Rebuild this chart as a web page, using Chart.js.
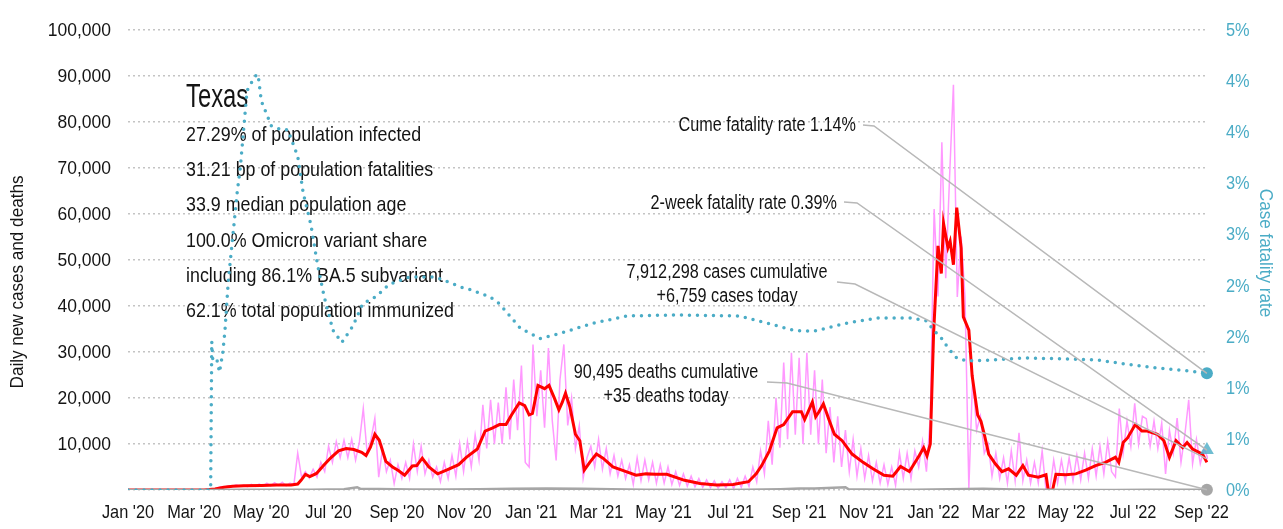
<!DOCTYPE html>
<html>
<head>
<meta charset="utf-8">
<script src="https://cdn.jsdelivr.net/npm/chart.js@4.4.1/dist/chart.umd.min.js"></script>
<style>
  html, body { margin: 0; padding: 0; background: #fff; }
</style>
</head>
<body>
<canvas id="texasChart" width="1283" height="529"></canvas>
<script>
const FONT = "'Liberation Sans', Arial, sans-serif";

// x axis ticks (every other month)
const tickDates = ['2020-01-01', '2020-03-01', '2020-05-01', '2020-07-01', '2020-09-01', '2020-11-01',
  '2021-01-01', '2021-03-01', '2021-05-01', '2021-07-01', '2021-09-01', '2021-11-01',
  '2022-01-01', '2022-03-01', '2022-05-01', '2022-07-01', '2022-09-01'];
const tickLabels = ["Jan '20", "Mar '20", "May '20", "Jul '20", "Sep '20", "Nov '20",
  "Jan '21", "Mar '21", "May '21", "Jul '21", "Sep '21", "Nov '21",
  "Jan '22", "Mar '22", "May '22", "Jul '22", "Sep '22"];

// daily new cases, one reading every 3.5 days from dailyStart (rows = 4 weeks)
const dailyStart = '2020-01-01';
const dailyStepDays = 3.5;
const dailyCases = [
  0, 0, 0, 0, 0, 0, 0, 0,
  0, 0, 0, 0, 0, 0, 0, 0,
  0, 0, 0, 0, 10, 40, 150, 400,
  700, 600, 900, 700, 1100, 800, 1000, 700,
  1200, 800, 1300, 900, 1500, 900, 1600, 1000,
  1700, 900, 1500, 1100, 8000, 2800, 4000, 2600,
  4500, 2800, 6000, 4000, 9500, 6000, 10500, 7000,
  10800, 7000, 11000, 6500, 10500, 17700, 8000, 11000,
  15600, 2800, 9000, 4000, 6500, 1400, 5500, 2500,
  6000, 2500, 10000, 4000, 9500, 3500, 6500, 2800,
  5000, 1800, 6000, 2500, 7500, 3000, 10000, 4000,
  10500, 5000, 12000, 6500, 18500, 9000, 19600, 10000,
  19000, 10000, 22300, 11000, 24000, 13000, 27000, 6000,
  5000, 31600, 16000, 26000, 13500, 30800, 15000, 6400,
  24000, 31600, 14000, 20000, 9000, 14000, 2500, 7000,
  9500, 5000, 11000, 4500, 9000, 3500, 7500, 3000,
  6500, 2500, 5500, 1200, 7000, 2000, 6500, 2200,
  6000, 1500, 5500, 1500, 5000, 1200, 4000, 1000,
  3500, 800, 3000, 700, 2500, 600, 2200, 500,
  2000, 400, 1800, 500, 2200, 300, 2500, 600,
  3000, 800, 5000, 1800, 8500, 3500, 15000, 5500,
  20000, 9200, 27700, 11000, 29800, 12000, 28700, 10000,
  29800, 12000, 26000, 10000, 24000, 8000, 18000, 6000,
  16000, 5000, 13000, 4000, 11000, 3000, 9000, 2500,
  7500, 2000, 6000, 1500, 5500, 1200, 5000, 1000,
  8100, 2500, 8000, 2500, 8500, 5000, 10600, 4000,
  15600, 61000, 42000, 75500, 46000, 68000, 88000, 41900,
  55000, 41900, 400, 25000, 13000, 16000, 8000, 10000,
  3000, 8000, 2500, 7000, 1500, 8500, 2000, 12400,
  2000, 6500, 1500, 6000, 1500, 8500, 0, 0,
  6500, 1500, 6500, 1800, 7000, 2000, 7500, 2200,
  8000, 2500, 9000, 3000, 9500, 3500, 10500, 4000,
  2800, 17700, 8000, 15000, 9500, 18800, 10000, 16000,
  15500, 9500, 15000, 9000, 14500, 3500, 13000, 8000,
  15600, 6000, 12000, 19600, 5700, 11000, 5700, 9000,
  6759
];

// 7-day average of new cases
const avgDates = [
  '2020-01-01', '2020-03-10', '2020-03-20', '2020-03-28', '2020-04-05', '2020-04-15', '2020-05-01', '2020-05-15',
  '2020-05-28', '2020-06-03', '2020-06-06', '2020-06-10', '2020-06-14', '2020-06-20', '2020-06-27', '2020-07-03',
  '2020-07-10', '2020-07-17', '2020-07-24', '2020-07-31', '2020-08-04', '2020-08-08', '2020-08-12', '2020-08-16',
  '2020-08-22', '2020-08-28', '2020-09-02', '2020-09-08', '2020-09-15', '2020-09-19', '2020-09-24', '2020-09-30',
  '2020-10-08', '2020-10-17', '2020-10-27', '2020-11-03', '2020-11-13', '2020-11-20', '2020-11-27', '2020-12-03',
  '2020-12-09', '2020-12-14', '2020-12-21', '2020-12-26', '2020-12-30', '2021-01-02', '2021-01-07', '2021-01-13',
  '2021-01-17', '2021-01-22', '2021-01-26', '2021-01-29', '2021-02-01', '2021-02-05', '2021-02-10', '2021-02-14',
  '2021-02-18', '2021-02-23', '2021-03-01', '2021-03-07', '2021-03-16', '2021-03-28', '2021-04-06', '2021-04-15',
  '2021-04-24', '2021-05-04', '2021-05-20', '2021-06-03', '2021-06-18', '2021-07-03', '2021-07-17', '2021-07-24',
  '2021-07-29', '2021-08-05', '2021-08-12', '2021-08-18', '2021-08-26', '2021-09-03', '2021-09-06', '2021-09-13',
  '2021-09-16', '2021-09-19', '2021-09-23', '2021-09-28', '2021-10-03', '2021-10-10', '2021-10-19', '2021-10-29',
  '2021-11-07', '2021-11-17', '2021-11-25', '2021-12-02', '2021-12-10', '2021-12-19', '2021-12-23', '2021-12-26',
  '2021-12-29', '2022-01-01', '2022-01-05', '2022-01-08', '2022-01-10', '2022-01-14', '2022-01-16', '2022-01-19',
  '2022-01-22', '2022-01-26', '2022-01-28', '2022-02-02', '2022-02-05', '2022-02-10', '2022-02-13', '2022-02-16',
  '2022-02-20', '2022-02-26', '2022-03-04', '2022-03-10', '2022-03-17', '2022-03-23', '2022-03-28', '2022-04-06',
  '2022-04-13', '2022-04-15', '2022-04-19', '2022-04-22', '2022-05-01', '2022-05-10', '2022-05-19', '2022-05-28',
  '2022-06-06', '2022-06-15', '2022-06-18', '2022-06-22', '2022-06-26', '2022-07-03', '2022-07-09', '2022-07-14',
  '2022-07-23', '2022-07-29', '2022-08-03', '2022-08-09', '2022-08-15', '2022-08-19', '2022-08-24', '2022-09-02',
  '2022-09-06'
];
const avgCases = [
  0, 0, 200, 600, 800, 900, 1000, 1100,
  1100, 1300, 2100, 3400, 2900, 3600, 5500, 7000,
  8500, 9000, 8800, 8200, 7500, 9300, 12100, 10800,
  6200, 5000, 4300, 3200, 5200, 5300, 6900, 5000,
  3500, 4400, 5500, 7100, 8900, 12800, 13500, 14200,
  14200, 16300, 18900, 18300, 16300, 16600, 22700, 22000,
  22700, 19900, 17400, 19000, 21000, 18000, 12100, 10700,
  4300, 6000, 7800, 6900, 5000, 4000, 3200, 3500,
  3400, 3400, 2100, 1400, 1100, 1200, 1800, 3500,
  5300, 8500, 13500, 14200, 17000, 17000, 15300, 19100,
  15900, 17000, 18700, 15300, 12100, 10700, 7800, 6000,
  4600, 3200, 3000, 5100, 4000, 7500, 9200, 7400,
  10000, 34000, 53000, 47000, 57900, 52600, 54000, 48900,
  61300, 52500, 37600, 34700, 24800, 16300, 14900, 12100,
  7800, 5700, 4000, 4600, 3200, 5300, 3200, 2800,
  3300, 0, 0, 3400, 3300, 3500, 4300, 5300,
  6000, 7100, 6000, 10300, 11300, 14200, 12800, 12800,
  12100, 10700, 7100, 10700, 9200, 10300, 8900, 7800,
  6000
];

// cumulative case fatality rate, percent
const cfrDates = [
  '2020-01-01', '2020-03-16', '2020-03-17', '2020-03-18', '2020-03-22', '2020-03-24', '2020-03-27', '2020-03-29',
  '2020-04-01', '2020-04-09', '2020-04-12', '2020-04-18', '2020-04-25', '2020-04-28', '2020-05-01', '2020-05-10',
  '2020-05-19', '2020-05-25', '2020-06-03', '2020-06-08', '2020-06-15', '2020-06-21', '2020-06-27', '2020-07-05',
  '2020-07-13', '2020-07-23', '2020-08-01', '2020-08-13', '2020-08-25', '2020-09-12', '2020-10-06', '2020-10-30',
  '2020-11-06', '2020-11-24', '2020-12-03', '2020-12-22', '2021-01-09', '2021-01-27', '2021-02-26', '2021-03-29',
  '2021-05-13', '2021-07-09', '2021-08-03', '2021-08-27', '2021-09-14', '2021-10-14', '2021-11-11', '2021-12-13',
  '2021-12-26', '2022-01-01', '2022-01-07', '2022-01-14', '2022-01-22', '2022-01-31', '2022-02-23', '2022-03-25',
  '2022-05-01', '2022-05-30', '2022-06-24', '2022-07-24', '2022-08-23', '2022-09-06'
];
const cfrRates = [
  0, 0, 1.45, 1.25, 1.26, 1.15, 1.34, 1.56,
  2.04, 2.90, 3.16, 3.90, 4.04, 4.06, 3.80, 3.56,
  3.52, 3.52, 3.26, 2.90, 2.59, 2.20, 1.89, 1.56,
  1.44, 1.60, 1.82, 1.89, 2.01, 2.08, 2.08, 1.98,
  1.96, 1.89, 1.82, 1.58, 1.48, 1.53, 1.63, 1.70,
  1.71, 1.70, 1.63, 1.56, 1.55, 1.63, 1.68, 1.68,
  1.65, 1.56, 1.50, 1.39, 1.29, 1.26, 1.27, 1.29,
  1.28, 1.27, 1.23, 1.19, 1.16, 1.14
];

// daily new deaths
const deathDates = [
  '2020-01-01', '2020-03-15', '2020-04-15', '2020-05-15', '2020-06-15', '2020-07-15', '2020-07-27', '2020-07-30',
  '2020-08-15', '2020-09-15', '2020-10-15', '2020-11-15', '2020-12-15', '2021-01-15', '2021-02-15', '2021-03-15',
  '2021-04-15', '2021-05-15', '2021-06-15', '2021-07-15', '2021-08-15', '2021-09-01', '2021-09-15', '2021-10-13',
  '2021-10-16', '2021-11-15', '2021-12-15', '2022-01-15', '2022-02-15', '2022-03-15', '2022-04-15', '2022-05-15',
  '2022-06-15', '2022-07-15', '2022-08-15', '2022-09-06'
];
const deathCounts = [
  0, 0, 40, 30, 30, 150, 600, 250,
  200, 120, 90, 150, 250, 350, 250, 150,
  50, 40, 25, 30, 150, 300, 350, 600,
  150, 70, 60, 150, 250, 100, 30, 20,
  20, 40, 50, 35
];

const lastDate = '2022-09-06';
const cumeRate = 1.14;
const twoWeekRate = 0.39;
const casesToday = 6759;
const deathsToday = 35;

const infoTitle = 'Texas';
const infoLines = [
  '27.29% of population infected',
  '31.21 bp of population fatalities',
  '33.9 median population age',
  '100.0% Omicron variant share',
  'including 86.1% BA.5 subvariant',
  '62.1% total population immunized'
];

const BLUE = '#4bacc6';
const INK = '#141414';
const originTime = Date.UTC(2020, 0, 1);
function dayIndex(s) {
  const p = s.split('-').map(Number);
  return (Date.UTC(p[0], p[1] - 1, p[2]) - originTime) / 86400000;
}
const pairs = (dates, vals) => dates.map((d, i) => ({ x: dayIndex(d), y: vals[i] }));
const dailyPoints = dailyCases.map((v, i) => ({ x: dayIndex(dailyStart) + i * dailyStepDays, y: v }));
const endX = dayIndex(lastDate);

// narrow text: regular sans squeezed horizontally, like a condensed face
function narrowText(ctx, text, x, y, size, squeeze, align, color, angle) {
  ctx.save();
  ctx.translate(x, y);
  if (angle) ctx.rotate(angle);
  ctx.scale(squeeze, 1);
  ctx.font = size + 'px ' + FONT;
  ctx.textAlign = align;
  ctx.textBaseline = 'middle';
  ctx.fillStyle = color;
  ctx.fillText(text, 0, 0);
  ctx.restore();
}

const overlayPlugin = {
  id: 'overlay',
  beforeDatasetsDraw(chart) {
    const ctx = chart.ctx;
    narrowText(ctx, infoTitle, 186, 98, 34, 0.7, 'left', INK);
    infoLines.forEach((t, i) => narrowText(ctx, t, 186, 135 + i * 35.3, 21, 0.85, 'left', INK));
  },
  afterDatasetsDraw(chart) {
    const ctx = chart.ctx;
    const xs = chart.scales.x, y = chart.scales.y, y2 = chart.scales.y2;
    const ex = xs.getPixelForValue(endX);
    const notes = [
      { lines: ['Cume fatality rate ' + cumeRate.toFixed(2) + '%'], tx: 856, ty: 125, align: 'right',
        p0: [863, 125], p1: [874, 126], end: y2.getPixelForValue(cumeRate) },
      { lines: ['2-week fatality rate ' + twoWeekRate.toFixed(2) + '%'], tx: 837, ty: 203, align: 'right',
        p0: [844, 202], p1: [857, 203], end: y2.getPixelForValue(twoWeekRate) },
      { lines: ['7,912,298 cases cumulative', '+' + casesToday.toLocaleString('en-US') + ' cases today'],
        tx: 727, ty: 272, align: 'center', p0: [837, 282], p1: [855, 284], end: y.getPixelForValue(casesToday) },
      { lines: ['90,495 deaths cumulative', '+' + deathsToday + ' deaths today'],
        tx: 666, ty: 372, align: 'center', p0: [767, 382], p1: [787, 383], end: y.getPixelForValue(deathsToday) }
    ];
    ctx.save();
    ctx.strokeStyle = '#b8b8b8';
    ctx.lineWidth = 1.5;
    notes.forEach(n => {
      ctx.beginPath();
      ctx.moveTo(n.p0[0], n.p0[1]);
      ctx.lineTo(n.p1[0], n.p1[1]);
      ctx.lineTo(ex, n.end);
      ctx.stroke();
    });
    ctx.restore();
    notes.forEach(n => {
      n.lines.forEach((t, i) => narrowText(ctx, t, n.tx, n.ty + i * 24.5, 20, 0.81, n.align, INK));
    });
  },
  afterDraw(chart) {
    const ctx = chart.ctx;
    const { x, y, y2 } = chart.scales;
    // tick labels, positioned by the scales
    y.ticks.forEach(t => {
      if (t.label) narrowText(ctx, t.label, y.right - 17, y.getPixelForValue(t.value) + 1, 19, 0.92, 'right', INK);
    });
    y2.ticks.forEach(t => {
      narrowText(ctx, t.label, y2.left + 18, y2.getPixelForValue(t.value) + 1, 19, 0.86, 'left', BLUE);
    });
    x.ticks.forEach(t => {
      narrowText(ctx, t.label, x.getPixelForValue(t.value), 513, 19, 0.86, 'center', INK);
    });
    // axis titles
    narrowText(ctx, 'Daily new cases and deaths', 18, 282, 19, 0.9, 'center', INK, -Math.PI / 2);
    narrowText(ctx, 'Case fatality rate', 1265, 253, 19, 0.9, 'center', BLUE, Math.PI / 2);
  }
};

Chart.defaults.font.family = FONT;
Chart.defaults.font.size = 19;

new Chart(document.getElementById('texasChart').getContext('2d'), {
  type: 'line',
  data: {
    datasets: [
      { data: dailyPoints, borderColor: '#ff99ff', borderWidth: 1.5, pointRadius: 0, yAxisID: 'y', order: 6 },
      { data: pairs(avgDates, avgCases), borderColor: '#ff0000', borderWidth: 3, pointRadius: 0, yAxisID: 'y', order: 5 },
      { data: pairs(deathDates, deathCounts), borderColor: '#a6a6a6', borderWidth: 2.5, pointRadius: 0, yAxisID: 'y', order: 4 },
      { data: pairs(cfrDates, cfrRates), borderColor: BLUE, borderWidth: 3.5, borderDash: [0, 8],
        borderCapStyle: 'round', pointRadius: 0, yAxisID: 'y2', order: 3 },
      { data: [{ x: endX, y: deathsToday }], pointRadius: 6, pointBackgroundColor: '#a6a6a6', pointBorderWidth: 0,
        showLine: false, yAxisID: 'y', clip: false, order: 2 },
      { data: [{ x: endX, y: twoWeekRate }], pointStyle: 'triangle', pointRadius: 8,
        pointBackgroundColor: 'rgba(75,172,198,0.8)', pointBorderWidth: 0, showLine: false, yAxisID: 'y2', clip: false, order: 1 },
      { data: [{ x: endX, y: cumeRate }], pointRadius: 6, pointBackgroundColor: BLUE, pointBorderWidth: 0,
        showLine: false, yAxisID: 'y2', clip: false, order: 0 }
    ]
  },
  options: {
    responsive: false,
    animation: false,
    events: [],
    layout: { padding: { top: 20, bottom: 0, left: 0, right: 0 } },
    plugins: { legend: { display: false }, tooltip: { enabled: false } },
    elements: { line: { tension: 0 } },
    scales: {
      x: {
        type: 'linear',
        min: 0,
        max: dayIndex('2022-09-07'),
        grid: { display: false },
        border: { display: false },
        afterBuildTicks: scale => { scale.ticks = tickDates.map(d => ({ value: dayIndex(d) })); },
        afterFit: scale => { scale.height = 39; },
        ticks: { autoSkip: false, maxRotation: 0, padding: 12, color: 'rgba(0,0,0,0)',
          callback: (v, i) => tickLabels[i] }
      },
      y: {
        position: 'left',
        min: 0,
        max: 100000,
        afterFit: scale => { scale.width = 128; },
        grid: { color: '#c4c4c4', lineWidth: 1.5, drawTicks: false },
        border: { display: false, dash: [2, 3] },
        ticks: { stepSize: 10000, padding: 17, color: 'rgba(0,0,0,0)',
          callback: v => v === 0 ? '' : v.toLocaleString('en-US') }
      },
      y2: {
        position: 'right',
        min: 0,
        max: 4.5,
        afterFit: scale => { scale.width = 75; },
        grid: { display: false, drawTicks: false },
        border: { display: false },
        ticks: { stepSize: 0.5, padding: 18, color: 'rgba(0,0,0,0)',
          callback: v => Math.round(v + 1e-9) + '%' }
      }
    }
  },
  plugins: [overlayPlugin]
});
</script>
</body>
</html>
